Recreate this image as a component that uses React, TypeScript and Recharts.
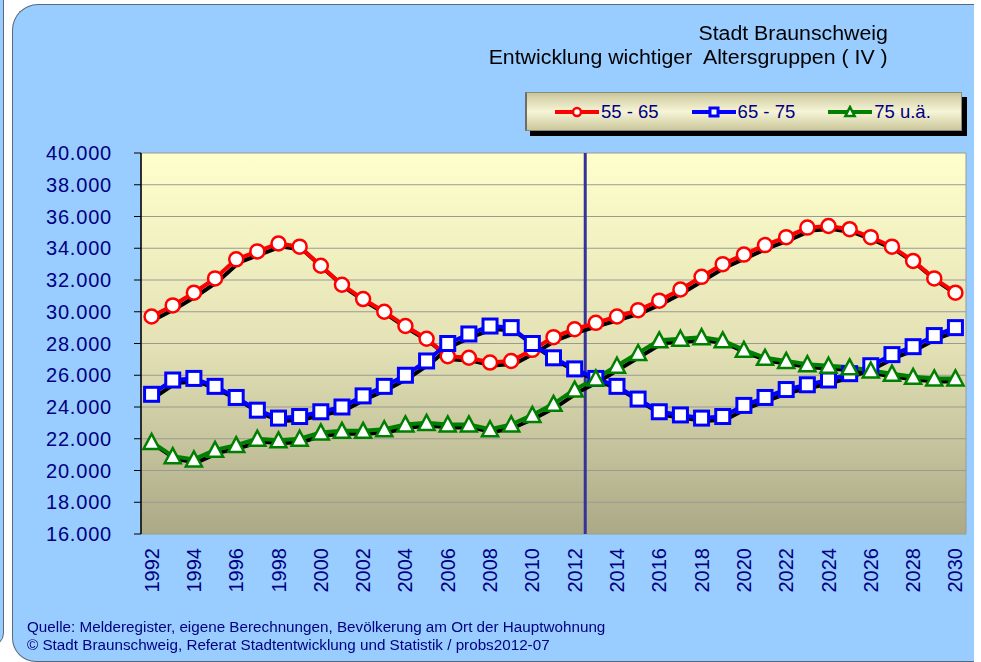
import React from 'react';
import { LineChart, Line, XAxis, YAxis, CartesianGrid, ReferenceLine, Legend } from 'recharts';

const years = [1992, 1993, 1994, 1995, 1996, 1997, 1998, 1999, 2000, 2001, 2002, 2003, 2004, 2005, 2006, 2007, 2008, 2009, 2010, 2011, 2012, 2013, 2014, 2015, 2016, 2017, 2018, 2019, 2020, 2021, 2022, 2023, 2024, 2025, 2026, 2027, 2028, 2029, 2030];

const ag5565 = [29700, 30400, 31200, 32100, 33300, 33800, 34300, 34100, 32900, 31700, 30800, 30000, 29100, 28300, 27200, 27100, 26800, 26900, 27600, 28400, 28900, 29300, 29700, 30100, 30700, 31400, 32200, 33000, 33600, 34200, 34700, 35300, 35400, 35200, 34700, 34100, 33200, 32100, 31200];
const ag6575 = [24800, 25700, 25800, 25300, 24600, 23800, 23300, 23400, 23700, 24000, 24700, 25300, 26000, 26900, 28000, 28600, 29100, 29000, 28000, 27100, 26400, 25800, 25300, 24500, 23700, 23500, 23300, 23400, 24100, 24600, 25100, 25400, 25700, 26100, 26600, 27300, 27800, 28500, 29000];
const ag75 = [21800, 20900, 20700, 21300, 21600, 22000, 21900, 22000, 22400, 22500, 22500, 22600, 22900, 23000, 22900, 22900, 22600, 22900, 23500, 24200, 25100, 25800, 26600, 27400, 28200, 28300, 28400, 28200, 27600, 27100, 26900, 26700, 26600, 26500, 26300, 26100, 25900, 25800, 25800];

const yearLabels = [1992, 1994, 1996, 1998, 2000, 2002, 2004, 2006, 2008, 2010, 2012, 2014, 2016, 2018, 2020, 2022, 2024, 2026, 2028, 2030];
const yTicks = [16000, 18000, 20000, 22000, 24000, 26000, 28000, 30000, 32000, 34000, 36000, 38000, 40000];
const forecastBoundary = 2012.5;

const titleLines = ['Stadt Braunschweig', 'Entwicklung wichtiger  Altersgruppen ( IV )'];
const footerLines = [
  'Quelle: Melderegister, eigene Berechnungen, Bevölkerung am Ort der Hauptwohnung',
  '© Stadt Braunschweig, Referat Stadtentwicklung und Statistik / probs2012-07',
];

const series = [
  { key: 'a', name: '55 - 65', color: '#FF0000', shape: 'circle' },
  { key: 'b', name: '65 - 75', color: '#0000FF', shape: 'square' },
  { key: 'c', name: '75 u.ä.', color: '#008000', shape: 'triangle' },
];

const data = years.map((year, i) => ({ year, a: ag5565[i], b: ag6575[i], c: ag75[i] }));
const boundaryTicks = [...years.map((y) => y - 0.5), years[years.length - 1] + 0.5];

const FONT = '"Liberation Sans", Arial, sans-serif';
const NAVY = '#000080';

function Marker({ shape, color, cx, cy, size }: any) {
  if (shape === 'circle') {
    return <circle cx={cx} cy={cy} r={size / 2} fill="#fff" stroke={color} strokeWidth={2.5} />;
  }
  if (shape === 'square') {
    return <rect x={cx - size / 2} y={cy - size / 2} width={size} height={size} fill="#fff" stroke={color} strokeWidth={3} />;
  }
  const w = size * 1.15;
  const h = size;
  return (
    <polygon
      points={`${cx},${cy - h / 2 - 1} ${cx + w / 2},${cy + h / 2} ${cx - w / 2},${cy + h / 2}`}
      fill="#fff"
      stroke={color}
      strokeWidth={2.5}
      strokeLinejoin="miter"
    />
  );
}

const makeDot = (shape: string, color: string) => (props: any) => {
  const { cx, cy, index } = props;
  if (cx == null || cy == null) return <g key={index} />;
  return (
    <g key={index}>
      <Marker shape={shape} color={color} cx={cx} cy={cy} size={14} />
    </g>
  );
};

const fmt = (v: number) => String(v).replace(/\B(?=(\d{3})+(?!\d))/g, '.');

const YearTick = (props: any) => {
  const { x, y, payload } = props;
  return (
    <text
      x={x}
      y={y}
      transform={`rotate(-90 ${x} ${y})`}
      textAnchor="end"
      dominantBaseline="central"
      fontSize={20}
      fontFamily={FONT}
      fill={NAVY}
    >
      {payload.value}
    </text>
  );
};

const LegendBox = () => (
  <div
    style={{
      width: 437,
      height: 39,
      boxSizing: 'border-box',
      background: 'linear-gradient(to bottom, #CBC79B 0%, #F7F5D8 50%, #CBC79B 100%)',
      border: '1px solid #8a8a80',
      borderLeft: '2px solid #6e6e66',
      boxShadow: '5px 5px 0 #000',
      display: 'flex',
      alignItems: 'center',
      paddingLeft: 28,
      gap: 33,
      fontFamily: FONT,
      fontSize: 18.5,
      color: NAVY,
    }}
  >
    {series.map((s) => (
      <div key={s.key} style={{ display: 'flex', alignItems: 'center' }}>
        <svg width={44} height={14} style={{ display: 'block' }}>
          <line x1={0} y1={7} x2={44} y2={7} stroke={s.color} strokeWidth={4} />
          <Marker shape={s.shape} color={s.color} cx={22} cy={7} size={8} />
        </svg>
        <span style={{ marginLeft: 2, whiteSpace: 'pre' }}>{s.name}</span>
      </div>
    ))}
  </div>
);

export default function App() {
  return (
    <div style={{ position: 'absolute', left: 0, top: 0, width: 981, height: 662, overflow: 'hidden', background: '#fff' }}>
      <style>{`.sh { filter: drop-shadow(3px 3px 0px #000); }`}</style>
      {/* neighbour panel edge */}
      <div
        style={{
          position: 'absolute',
          left: -30,
          top: -10,
          width: 32,
          height: 655,
          background: '#99CCFF',
          border: '1px solid #5a6a7a',
          borderRadius: '0 0 14px 0',
        }}
      />
      {/* main panel */}
      <div
        style={{
          position: 'absolute',
          left: 12,
          top: 4,
          width: 961,
          height: 656,
          background: '#99CCFF',
          borderTop: '1px solid #5a6a7a',
          borderLeft: '1px solid #5a6a7a',
          borderBottom: '1px solid #5a6a7a',
          borderRadius: '26px 0 0 24px',
        }}
      />
      {titleLines.map((t, i) => (
        <div
          key={i}
          style={{
            position: 'absolute',
            right: 93,
            top: 21 + i * 24,
            fontFamily: FONT,
            fontSize: 20,
            lineHeight: '24px',
            color: '#000',
            whiteSpace: 'pre',
            transform: 'scaleX(1.065)',
            transformOrigin: 'right center',
          }}
        >
          {t}
        </div>
      ))}
      {footerLines.map((t, i) => (
        <div
          key={i}
          style={{
            position: 'absolute',
            left: 27,
            top: 618 + i * 18,
            fontFamily: FONT,
            fontSize: 14,
            lineHeight: '18px',
            color: NAVY,
            whiteSpace: 'pre',
            transform: 'scaleX(1.088)',
            transformOrigin: 'left center',
          }}
        >
          {t}
        </div>
      ))}
      <div style={{ position: 'absolute', left: 0, top: 0 }}>
        <LineChart width={981} height={662} data={data} margin={{ top: 153, right: 15, bottom: 0, left: 0 }}>
          <defs>
            <linearGradient id="plotBg" x1="0" y1="0" x2="0" y2="1">
              <stop offset="0%" stopColor="#FFFFCC" />
              <stop offset="50%" stopColor="#E4E2B6" />
              <stop offset="100%" stopColor="#ABA986" />
            </linearGradient>
          </defs>
          <CartesianGrid
            xAxisId="grid"
            fill="url(#plotBg)"
            fillOpacity={1}
            stroke="#9a9a94"
            strokeWidth={1}
          />
          <XAxis
            xAxisId="grid"
            dataKey="year"
            type="number"
            domain={[1991.5, 2030.5]}
            ticks={boundaryTicks}
            interval={0}
            tick={false}
            tickSize={6}
            height={0}
            axisLine={{ stroke: '#000', strokeWidth: 1.5 }}
            tickLine={{ stroke: '#000', strokeWidth: 1 }}
          />
          <XAxis
            xAxisId="lab"
            dataKey="year"
            type="number"
            domain={[1991.5, 2030.5]}
            ticks={yearLabels}
            interval={0}
            tick={<YearTick />}
            tickSize={0}
            tickMargin={14}
            height={128}
            axisLine={false}
            tickLine={false}
          />
          <YAxis
            domain={[16000, 40000]}
            ticks={yTicks}
            interval={0}
            width={141}
            tickFormatter={fmt}
            tickSize={7}
            tickMargin={22}
            axisLine={{ stroke: '#000', strokeWidth: 1.5 }}
            tickLine={{ stroke: '#000', strokeWidth: 1 }}
            tick={{ fill: NAVY, fontSize: 20, fontFamily: FONT, letterSpacing: 0.8 }}
          />
          <ReferenceLine xAxisId="grid" x={forecastBoundary} stroke="#333399" strokeWidth={3} />
          {series.map((s) => (
            <Line
              key={s.key}
              type="linear"
              xAxisId="lab"
              className="sh"
              dataKey={s.key}
              name={s.name}
              stroke={s.color}
              strokeWidth={4}
              dot={makeDot(s.shape, s.color)}
              activeDot={false}
              isAnimationActive={false}
            />
          ))}
          <Legend
            layout="horizontal"
            verticalAlign="middle"
            align="center"
            content={() => <LegendBox />}
            wrapperStyle={{ position: 'absolute', left: 525, top: 92, width: 437, height: 39 }}
          />
        </LineChart>
      </div>
    </div>
  );
}
